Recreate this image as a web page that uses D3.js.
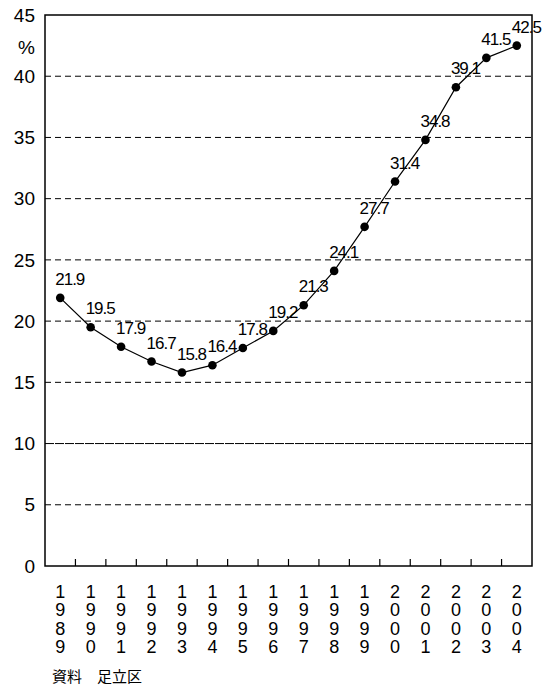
<!DOCTYPE html>
<html><head><meta charset="utf-8">
<script src="https://cdn.jsdelivr.net/npm/d3@7"></script>
<style>body{margin:0;background:#fff}svg{display:block}</style>
</head><body>
<script>
const years = ["1989","1990","1991","1992","1993","1994","1995","1996","1997","1998","1999","2000","2001","2002","2003","2004"];
const values = [21.9,19.5,17.9,16.7,15.8,16.4,17.8,19.2,21.3,24.1,27.7,31.4,34.8,39.1,41.5,42.5];
const yTicks = [0,5,10,15,20,25,30,35,40,45];
const unitLabel = "%";
const sourceText = "資料　足立区";

const W = 552, H = 685;
const m = {left:45, right:20, top:15, bottom:119};
const svg = d3.select("body").append("svg").attr("width",W).attr("height",H);
const x = d3.scaleBand().domain(years).range([m.left, W-m.right]).paddingInner(0).paddingOuter(0);
const y = d3.scaleLinear().domain([0,45]).range([H-m.bottom, m.top]);
const font = "'Liberation Sans', Arial, sans-serif";

// grid lines
svg.append("g").selectAll("line").data(yTicks.filter(d=>d>0 && d<45)).join("line")
  .attr("x1", m.left).attr("x2", W-m.right)
  .attr("y1", d=>y(d)).attr("y2", d=>y(d))
  .attr("stroke","#000").attr("stroke-width",1)
  .attr("stroke-dasharray", d=> d===10 ? "9,1" : "6,4");

// frame
svg.append("rect").attr("x",m.left).attr("y",m.top)
  .attr("width",W-m.right-m.left).attr("height",y(0)-m.top)
  .attr("fill","none").attr("stroke","#000").attr("stroke-width",1.5);

// y labels
svg.append("g").selectAll("text").data(yTicks).join("text")
  .attr("x",35).attr("y",d=>y(d)).attr("dy","0.35em")
  .attr("text-anchor","end").attr("font-family",font).attr("font-size",19)
  .text(d=>d);
svg.append("text").attr("x",35).attr("y",47).attr("dy","0.35em")
  .attr("text-anchor","end").attr("font-family",font).attr("font-size",19).text(unitLabel);

// x ticks (band boundaries, pointing up)
svg.append("g").selectAll("line").data(years.slice(1)).join("line")
  .attr("x1",d=>x(d)).attr("x2",d=>x(d))
  .attr("y1",y(0)).attr("y2",y(0)-7)
  .attr("stroke","#000").attr("stroke-width",1.2);

// x labels, stacked digits
const xl = svg.append("g").selectAll("text").data(years).join("text")
  .attr("text-anchor","middle").attr("font-family",font).attr("font-size",18);
xl.each(function(d){
  const t = d3.select(this);
  d.split("").forEach((c,i)=>{
    t.append("tspan").attr("x", x(d)+x.bandwidth()/2).attr("y", 598 + i*18.3).text(c);
  });
});

// line
const line = d3.line().x((d,i)=>x(years[i])+x.bandwidth()/2).y(d=>y(d));
svg.append("path").datum(values).attr("d",line).attr("fill","none").attr("stroke","#000").attr("stroke-width",1.2);

// points
svg.append("g").selectAll("circle").data(values).join("circle")
  .attr("cx",(d,i)=>x(years[i])+x.bandwidth()/2).attr("cy",d=>y(d)).attr("r",4.3).attr("fill","#000");

// value labels
svg.append("g").selectAll("text").data(values).join("text")
  .attr("x",(d,i)=>x(years[i])+x.bandwidth()/2-5).attr("y",d=>y(d)-13)
  .attr("font-family",font).attr("font-size",17).attr("letter-spacing","-1")
  .text(d=>d.toFixed(1));

// source
svg.append("text").attr("x",52).attr("y",682)
  .attr("font-family","'Noto Sans CJK JP', sans-serif").attr("font-size",15).text(sourceText);
</script>
</body></html>
